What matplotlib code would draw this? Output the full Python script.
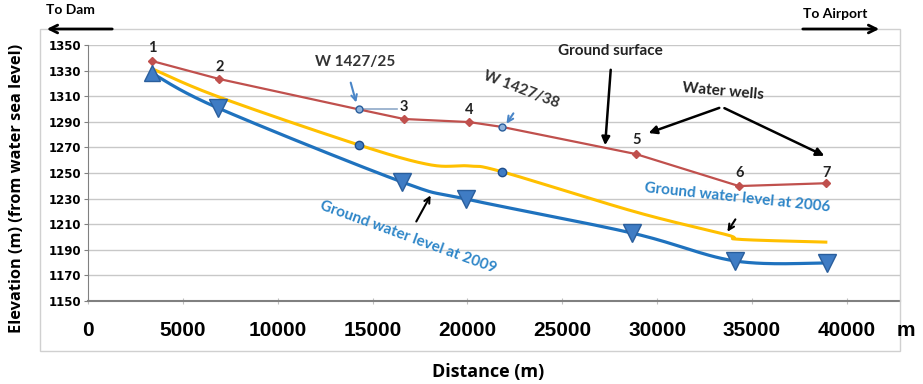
import numpy as np
import matplotlib.pyplot as plt
from matplotlib.patches import Rectangle, FancyArrowPatch

# ground surface (red, straight segments, wells 1..7 plus the two W points)
ground_x = [3373, 6900, 14180, 16650, 20080, 21820, 28880, 34310, 38890]
ground_y = [1337.5, 1323.5, 1300, 1292.2, 1289.8, 1286, 1264.8, 1239.8, 1242]
well_idx = [0, 1, 3, 4, 6, 7, 8]
well_names = ["1", "2", "3", "4", "5", "6", "7"]

# ground water level 2006 (yellow, smoothed)
gw06_x = [3373, 6900, 14280, 18000, 20080, 21820, 28880, 33700, 34310, 38890]
gw06_y = [1331.5, 1309.4, 1271.9, 1256.5, 1255.5, 1251, 1219.5, 1201.6, 1198.2, 1196]

# ground water level 2009 (blue, smoothed, triangle markers)
gw09_x = [3373, 6851, 16548, 19921, 28669, 34097, 38946]
gw09_y = [1328, 1300.8, 1243, 1229.7, 1203.1, 1181.3, 1179.7]

# observation wells W 1427/25 and W 1427/38
obs_x = [14280, 21820]
obs_y06 = [1271.9, 1251]
obs_ground = [1300, 1286]

x_ticks = [0, 5000, 10000, 15000, 20000, 25000, 30000, 35000, 40000]
y_ticks = list(range(1150, 1351, 20))

RED = "#C0504D"
YEL = "#FFC000"
BLUE = "#1F72BE"
TEXT_BLUE = "#2E86C8"


def smooth(xs, ys, n=30):
    """Excel-like smoothed line (Catmull-Rom as cubic Bezier)"""
    p = np.column_stack([xs, ys]).astype(float)
    out = []
    for i in range(len(p) - 1):
        p0 = p[i - 1] if i > 0 else p[i]
        p3 = p[i + 2] if i + 2 < len(p) else p[i + 1]
        c1 = p[i] + (p[i + 1] - p0) / 6
        c2 = p[i + 1] - (p3 - p[i]) / 6
        t = np.linspace(0, 1, n)[:, None]
        seg = ((1 - t) ** 3) * p[i] + 3 * ((1 - t) ** 2) * t * c1 \
            + 3 * (1 - t) * t ** 2 * c2 + t ** 3 * p[i + 1]
        out.append(seg if i == 0 else seg[1:])
    out = np.vstack(out)
    return out[:, 0], out[:, 1]


fig = plt.figure(figsize=(9.23, 3.84), dpi=100)
W, H = 923, 384
ax = fig.add_axes([88 / W, 1 - 301 / H, (900 - 88) / W, (301 - 45) / H])

# outer chart frame
fig.patches.append(Rectangle((40 / W, 1 - 351 / H), 860 / W, 322 / H,
                             transform=fig.transFigure, fill=False,
                             edgecolor="#D0D0D0", lw=1))

ax.set_xlim(0, 42800)
ax.set_ylim(1150, 1350)
ax.set_yticks(y_ticks)
ax.set_xticks(x_ticks)
ax.grid(axis="y", color="#C8C8C8", lw=1)
ax.set_axisbelow(True)
for s in ["top", "right"]:
    ax.spines[s].set_visible(False)
ax.spines["left"].set_color("#808080")
ax.spines["bottom"].set_color("#808080")
ax.spines["bottom"].set_linewidth(1.5)
ax.tick_params(axis="y", direction="out", length=3, color="#808080", pad=2,
               labelsize=8.5)
ax.tick_params(axis="x", direction="inout", length=5, color="#C0C0C0", pad=12,
               labelsize=15)
for lab in ax.get_yticklabels():
    lab.set_fontfamily("Liberation Sans Narrow")
    lab.set_fontweight("bold")
for lab in ax.get_xticklabels():
    lab.set_fontfamily("Liberation Sans")
    lab.set_fontweight("bold")

# lines
ax.plot(ground_x, ground_y, color=RED, lw=1.6, zorder=3)
ax.plot([ground_x[i] for i in well_idx], [ground_y[i] for i in well_idx],
        "D", color=RED, ms=4, zorder=4)
sx, sy = smooth(gw06_x, gw06_y)
ax.plot(sx, sy, color=YEL, lw=2.2, zorder=3)
sx, sy = smooth(gw09_x, gw09_y)
ax.plot(sx, sy, color=BLUE, lw=2.3, zorder=3)
ax.plot(gw09_x[1:], gw09_y[1:], "v", ms=13, color="#3F7CC4",
        markeredgecolor="#2A5E9C", mew=1, zorder=5)
ax.plot(gw09_x[:1], gw09_y[:1], "^", ms=11, color="#3F7CC4",
        markeredgecolor="#2A5E9C", mew=1, zorder=5)
ax.plot(obs_x, obs_y06, "o", ms=6, color="#3F7CC4",
        markeredgecolor="#1F4E8C", zorder=5)
ax.plot(obs_x, obs_ground, "o", ms=5, color="#8FB3DC",
        markeredgecolor="#2A5E9C", zorder=5)

# well numbers
num_pos = [(3373, 1347.7), (6956, 1332.8), (16653, 1301.6), (20079, 1299.2),
           (28933, 1275.8), (34361, 1250), (38946, 1250)]
for name, (x, y) in zip(well_names, num_pos):
    ax.text(x, y, name, ha="center", va="center", fontsize=10.5,
            fontweight="bold", family="Lato", color="#222222")

afont = dict(family="Lato", fontweight="bold", fontsize=11)
ax.text(14071, 1336.7, "W 1427/25", ha="center", va="center", color="#333333", **afont)
ax.annotate("", xy=(14176, 1303), xytext=(13808, 1322.7),
            arrowprops=dict(arrowstyle="->", color="#4A86C8", lw=1.5))
ax.plot([14280, 16285], [1300, 1300], color="#8FA9C8", lw=1.2, zorder=2)
ax.text(22819, 1314.8, "W 1427/38", ha="center", va="center", rotation=-21,
        color="#333333", **afont)
ax.annotate("", xy=(21976, 1286.7), xytext=(22503, 1298.4),
            arrowprops=dict(arrowstyle="->", color="#4A86C8", lw=1.5))

ax.text(27510, 1345.3, "Ground surface", ha="center", va="center",
        color="#222222", **afont)
ax.annotate("", xy=(27246, 1269.5), xytext=(27563, 1332.8),
            arrowprops=dict(arrowstyle="-|>", color="black", lw=1.8,
                            mutation_scale=12))
ax.text(33465, 1314, "Water wells", ha="center", va="center", rotation=-5,
        color="#222222", **afont)
for tx, ty in [(29407, 1280.5), (38946, 1262.5)]:
    ax.annotate("", xy=(tx, ty), xytext=(33412, 1301.6),
                arrowprops=dict(arrowstyle="-|>", color="black", lw=1.8,
                                mutation_scale=12))

ax.text(34203, 1230.5, "Ground water level at 2006", ha="center", va="center",
        rotation=-6, color=TEXT_BLUE, **afont)
ax.annotate("", xy=(33623, 1202.3), xytext=(34203, 1215.6),
            arrowprops=dict(arrowstyle="->", color="black", lw=1.5))
ax.text(16864, 1200, "Ground water level at 2009", ha="center", va="center",
        rotation=-20, color=TEXT_BLUE, **afont)
ax.annotate("", xy=(18129, 1234.4), xytext=(17233, 1210.2),
            arrowprops=dict(arrowstyle="->", color="black", lw=1.5))

# figure level labels and direction arrows
fig.text(70 / W, 1 - 10 / H, "To Dam", ha="center", va="center",
         family="Lato", fontweight="bold", fontsize=10)
fig.text(835 / W, 1 - 14 / H, "To Airport", ha="center", va="center",
         family="Lato", fontweight="bold", fontsize=10)
fig.patches.append(FancyArrowPatch(
    (115 / W, 1 - 29 / H), (44 / W, 1 - 29 / H), transform=fig.transFigure,
    arrowstyle="->", mutation_scale=14, lw=2, color="black"))
fig.patches.append(FancyArrowPatch(
    (800 / W, 1 - 29 / H), (882 / W, 1 - 29 / H), transform=fig.transFigure,
    arrowstyle="->", mutation_scale=14, lw=2, color="black"))
fig.text(906 / W, 1 - 330 / H, "m", ha="center", va="center",
         family="Liberation Sans", fontweight="bold", fontsize=15)
fig.text(488 / W, 1 - 372 / H, "Distance (m)", ha="center", va="center",
         family="Open Sans", fontweight="bold", fontsize=13)
fig.text(17 / W, 1 - 188 / H, "Elevation (m) (from water sea level)",
         ha="center", va="center", rotation=90, family="Open Sans",
         fontweight="bold", fontsize=11.8)

fig.savefig("out.png", dpi=100)
